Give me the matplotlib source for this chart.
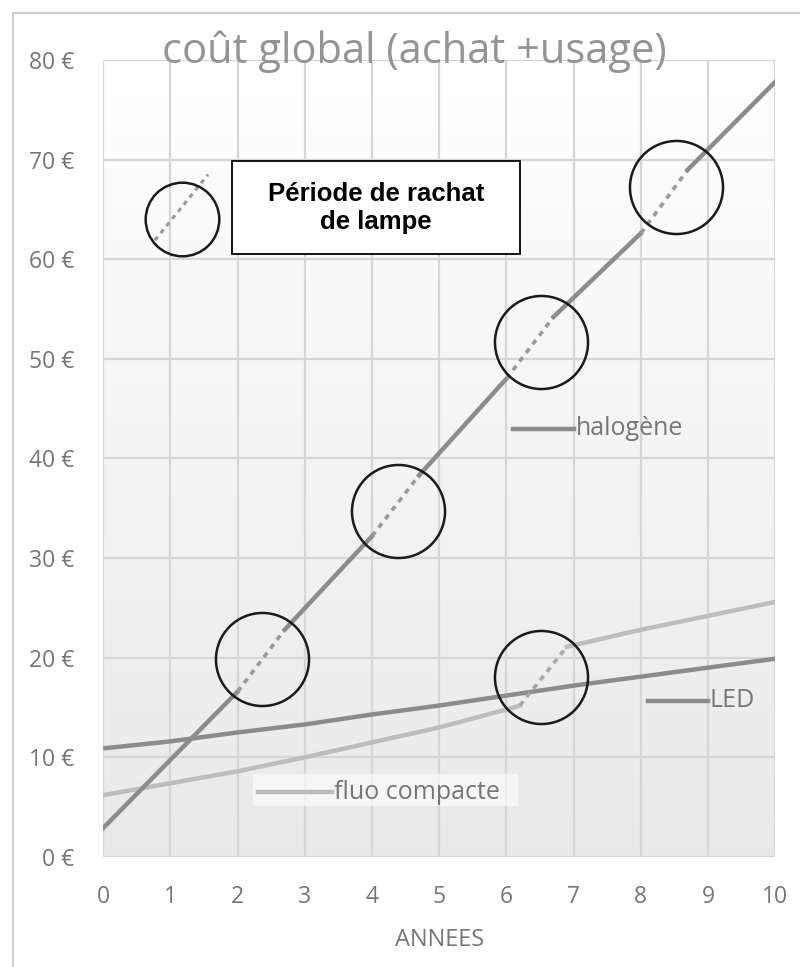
import numpy as np
import matplotlib
matplotlib.use("Agg")
import matplotlib.pyplot as plt
from matplotlib.patches import Rectangle

# data
years = [0, 1, 2, 3, 4, 5, 6, 7, 8, 9, 10]
led = [10.9, 11.6, 12.5, 13.3, 14.3, 15.2, 16.2, 17.2, 18.1, 19.0, 19.9]

halo_x = [0, 2.0, 2.7, 4.0, 4.7, 6.0, 6.7, 8.0, 8.7, 10]
halo_y = [2.9, 16.6, 22.8, 32.2, 38.3, 48.0, 54.2, 62.6, 69.0, 77.8]

fluo_x = [0, 1, 2, 3, 4, 5, 6, 6.2, 6.9, 8, 9, 10]
fluo_y = [6.2, 7.4, 8.6, 10.0, 11.5, 13.0, 14.8, 15.2, 21.1, 22.8, 24.2, 25.6]

# circles marking lamp re-purchase
circle_x = [2.37, 4.39, 6.52, 8.53, 6.52]
circle_y = [19.9, 34.7, 51.7, 67.2, 18.1]

yticks = [0, 10, 20, 30, 40, 50, 60, 70, 80]
ytick_labels = [f"{v} €" for v in yticks]

grey = "#8c8c8c"
light = "#bdbdbd"
txt = "#767676"
font = ["Open Sans", "DejaVu Sans"]

fig = plt.figure(figsize=(8, 9.67), dpi=100)
ax = fig.add_axes([0.129, 0.1138, 0.84, 0.8242])

# background gradient of the plot area
grad = np.linspace(0, 1, 256).reshape(-1, 1)
ax.imshow(grad, cmap=matplotlib.colors.LinearSegmentedColormap.from_list(
    "bg", ["#e9e9e9", "#ffffff"]), extent=[0, 10, 0, 80], aspect="auto",
    origin="lower", zorder=0)

ax.set_xlim(0, 10)
ax.set_ylim(0, 80)
ax.set_xticks(years)
ax.set_yticks(yticks)
ax.set_yticklabels(ytick_labels)
ax.grid(True, color="#d6d6d6", lw=1.6, zorder=1)
ax.set_axisbelow(True)
for s in ax.spines.values():
    s.set_visible(False)
ax.tick_params(length=0, labelcolor=txt, labelsize=16.5)
ax.tick_params(axis="y", pad=21)
ax.tick_params(axis="x", pad=20)
for lab in ax.get_xticklabels() + ax.get_yticklabels():
    lab.set_family(font)
ax.set_xlabel("ANNEES", color=txt, fontsize=17, family=font, labelpad=14)

# LED
ax.plot(years, led, color=grey, lw=3.2, zorder=3, solid_capstyle="butt")

# fluo compacte: solid parts + dotted jump
ax.plot(fluo_x[:8], fluo_y[:8], color=light, lw=3.2, zorder=3)
ax.plot(fluo_x[7:9], fluo_y[7:9], color="#a8a8a8", lw=2.6, ls=(0, (1.5, 1.5)), zorder=3)
ax.plot(fluo_x[8:], fluo_y[8:], color=light, lw=3.2, zorder=3)

# halogene: solid with dotted segments at each re-purchase
for i in range(len(halo_x) - 1):
    seg_x = halo_x[i:i + 2]
    seg_y = halo_y[i:i + 2]
    if i % 2 == 1:
        ax.plot(seg_x, seg_y, color="#9a9a9a", lw=2.6, ls=(0, (1.5, 1.5)), zorder=3)
    else:
        ax.plot(seg_x, seg_y, color=grey, lw=3.2, zorder=3)

ax.plot(circle_x, circle_y, ls="none", marker="o", ms=67, mfc="none",
        mec="#1a1a1a", mew=1.8, zorder=5, clip_on=False)

# legend-like sample circle
ax.plot([1.18], [64.0], ls="none", marker="o", ms=53, mfc="none",
        mec="#1a1a1a", mew=1.8, zorder=5)
ax.plot([0.77, 1.56], [61.9, 68.5], color="#9a9a9a", lw=2.2,
        ls=(0, (1.5, 1.5)), zorder=4)

# box
box = Rectangle((232 / 800, 1 - 254 / 967), 288 / 800, 93 / 967,
                transform=fig.transFigure, fc="white", ec="black", lw=1.3, zorder=6)
fig.add_artist(box)
fig.text(376 / 800, 1 - 208 / 967, "Période de rachat\nde lampe", ha="center",
         va="center", fontsize=18.5, fontweight="bold", family="Liberation Sans",
         linespacing=1.2, zorder=7)

# title (sits on the 80 gridline)
fig.text(414 / 800, 1 - 63 / 967, "coût global (achat +usage)", ha="center",
         va="baseline", fontsize=30, color="#949494", family=font)

# series labels
ax.plot([6.1, 7.0], [43.0, 43.0], color=grey, lw=3.2, zorder=4)
ax.text(7.03, 43.0, "halogène", color=txt, fontsize=18, family=font, va="center", zorder=6)
ax.plot([8.1, 9.0], [15.7, 15.7], color=grey, lw=3.2, zorder=4)
ax.text(9.02, 15.7, "LED", color=txt, fontsize=18, family=font, va="center", zorder=6)
ax.add_patch(Rectangle((2.23, 5.1), 3.95, 3.2, fc="white", ec="none", alpha=0.6, zorder=3.5))
ax.plot([2.3, 3.4], [6.5, 6.5], color=light, lw=3.2, zorder=4)
ax.text(3.43, 6.5, "fluo compacte", color=txt, fontsize=18, family=font, va="center", zorder=6)

# outer frame
fig.add_artist(Rectangle((13 / 800, -0.01), 1.0, 1 - 13 / 967 + 0.01,
               transform=fig.transFigure, fc="none", ec="#cfcfcf", lw=1.5))

fig.savefig("out.png", dpi=100)
